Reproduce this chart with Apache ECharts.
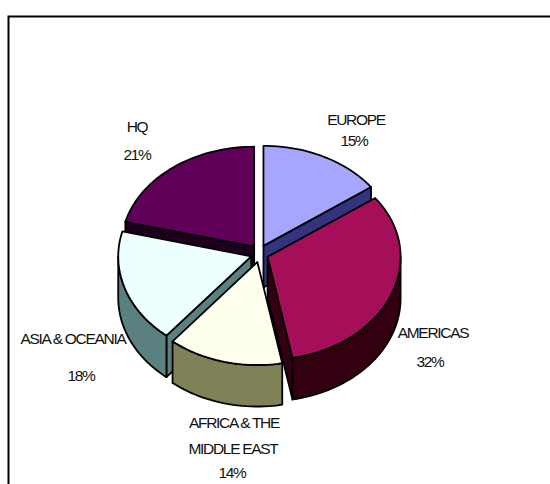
<!DOCTYPE html>
<html>
<head>
<meta charset="utf-8">
<title>Regional share</title>
<script src="https://cdn.jsdelivr.net/npm/echarts@6/dist/echarts.min.js"></script>
<style>
  html, body { margin: 0; padding: 0; background: #fff; }
  #chart { width: 550px; height: 484px; letter-spacing: -1.3px; }
  #chart text { letter-spacing: -1.3px; }
</style>
</head>
<body>
<div id="chart"></div>
<script>
// Regional split, clockwise from twelve o'clock
const categories = ['EUROPE', 'AMERICAS', 'AFRICA & THE\nMIDDLE EAST', 'ASIA & OCEANIA', 'HQ'];
const shares = [15, 32, 14, 18, 21];
const topColors = ['#A6A6FF', '#A50F5A', '#FFFFEE', '#EEFFFF', '#5F0059'];
const sideColors = ['#33337F', '#33000F', '#808059', '#5A8080', '#1E001E'];

// Centre of each text line, name lines first and the percentage last
const labelSpots = [
  [[356, 119], [354, 140]],
  [[433, 332], [430, 361]],
  [[234, 422], [233, 448], [232, 472]],
  [[73, 338], [81, 375]],
  [[137, 126], [137, 154]]
];

// Back slices are painted first so the nearer ones overlap them
const paintOrder = [4, 0, 3, 1, 2];

// Pie geometry: tilted ellipse, extruded downwards, slices pulled out radially.
// The near half of the ellipse is a little deeper, as in a perspective view.
const cx = 259.5, cy = 253.6;
const rx = 133, ryBack = 100, ryFront = 103;
const depth = 41.5;
const explode = 8.7;
const RAD = Math.PI / 180;

const total = shares.reduce((a, b) => a + b, 0);
const startAngles = [];
shares.reduce((sum, v, i) => { startAngles[i] = sum / total * 360; return sum + v; }, 0);

function onRim(apex, deg) {
  const c = Math.cos(deg * RAD);
  return [apex[0] + rx * Math.sin(deg * RAD), apex[1] - (c > 0 ? ryBack : ryFront) * c];
}

function arc(apex, from, to) {
  const pts = [];
  const steps = Math.max(2, Math.ceil(Math.abs(to - from) / 2));
  for (let i = 0; i <= steps; i++) pts.push(onRim(apex, from + (to - from) * i / steps));
  return pts;
}

const drop = p => [p[0], p[1] + depth];

function facePolygon(points, fill) {
  return {
    type: 'polygon',
    shape: { points },
    style: { fill, stroke: '#000', lineWidth: 1.8, lineJoin: 'round' }
  };
}

function renderSlice(params, api) {
  const idx = api.value(0);
  const a0 = startAngles[idx];
  const a1 = a0 + shares[idx] / total * 360;
  const mid = (a0 + a1) / 2;
  const apex = [
    cx + explode * Math.sin(mid * RAD),
    cy - explode * Math.cos(mid * RAD)
  ];
  const children = [];

  // A cut face shows only when its outward normal points at the viewer
  [[a0, a0 - 90], [a1, a1 + 90]].forEach(([edge, normal]) => {
    if (Math.cos(normal * RAD) < 0) {
      const rim = onRim(apex, edge);
      children.push(facePolygon([apex, rim, drop(rim), drop(apex)], sideColors[idx]));
    }
  });

  // Outer wall, front half of the ellipse only
  const from = Math.max(a0, 90), to = Math.min(a1, 270);
  if (to > from) {
    const upper = arc(apex, from, to);
    children.push(facePolygon(upper.concat(upper.map(drop).reverse()), sideColors[idx]));
  }

  // Top face
  children.push(facePolygon([apex].concat(arc(apex, a0, a1)), topColors[idx]));

  // Labels
  const lines = categories[idx].split('\n').concat(shares[idx] + '%');
  lines.forEach((line, i) => {
    children.push({
      type: 'text',
      z2: 10,
      style: {
        text: line,
        x: labelSpots[idx][i][0],
        y: labelSpots[idx][i][1],
        align: 'center',
        verticalAlign: 'middle',
        fill: '#111',
        font: '15.5px "Liberation Sans", Arial, sans-serif'
      }
    });
  });

  return { type: 'group', children };
}

const chart = echarts.init(document.getElementById('chart'), null, { renderer: 'svg' });
chart.setOption({
  backgroundColor: '#fff',
  animation: false,
  graphic: [{
    type: 'polyline',
    silent: true,
    shape: { points: [[8.5, 484], [8.5, 16.5], [550, 16.5]] },
    style: { fill: 'none', stroke: '#000', lineWidth: 2 }
  }],
  series: [{
    type: 'custom',
    coordinateSystem: 'none',
    silent: true,
    renderItem: renderSlice,
    data: paintOrder.map(i => [i]),
    encode: { value: 0 }
  }]
});
</script>
</body>
</html>
